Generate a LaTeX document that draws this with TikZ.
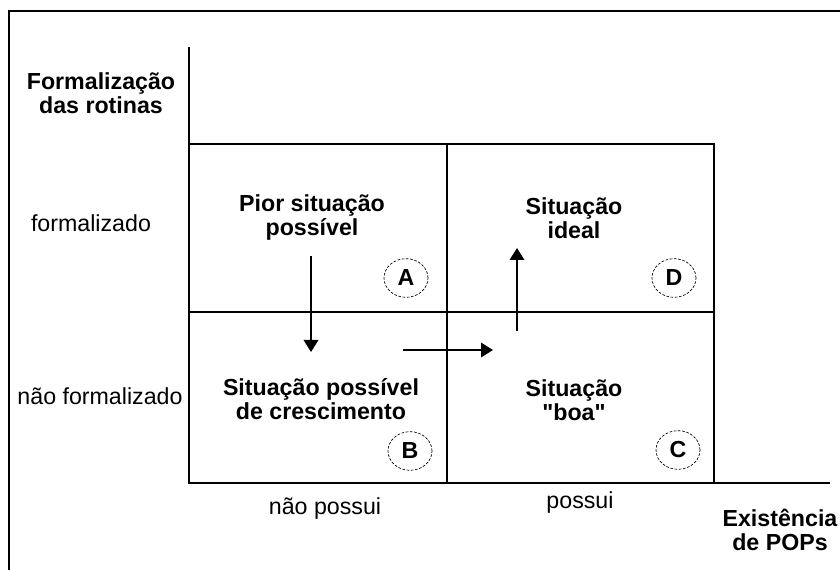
\documentclass[tikz,border=0pt]{standalone}
\usepackage{fontspec}
\setmainfont{Liberation Sans}[Ligatures=TeXOff]
\usepackage{tikz}
\usetikzlibrary{arrows.meta}
\usetikzlibrary{shapes.geometric}
\usetikzlibrary{positioning}

\begin{document}
\begin{tikzpicture}[x=0.75pt, y=-0.75pt,
    every node/.style={font=\fontsize{17.4}{18}\selectfont, align=center, inner sep=0pt},
    titel/.style={font=\fontsize{17.4}{18}\selectfont\bfseries},
    tag/.style={draw, ellipse, dashed, line width=0.5pt, dash pattern=on 2pt off 1.2pt,
                minimum width=33pt, minimum height=29pt, font=\fontsize{17.4}{18}\selectfont\bfseries},
    seta/.style={line width=0.9pt, -{Triangle[length=9pt, width=11pt]}}]
  \useasboundingbox (0,0) rectangle (840,570);

  % frame
  \draw[line width=0.9pt] (9,570) -- (9,11) -- (840,11);

  % axes and quadrants
  \draw[line width=0.9pt] (189,47) -- (189,483) -- (830,483);
  \draw[line width=0.9pt] (189,144) rectangle (714,483);
  \draw[line width=0.9pt] (447,144) -- (447,483);
  \draw[line width=0.9pt] (189,312) -- (714,312);

  % axis labels
  \node[titel] (eixoy) at (101,93)  {Formalização\\das rotinas};
  \node (form)    at (91,223)  {formalizado};
  \node (naoform) at (100,396) {não formalizado};
  \node (naoposs) at (325,509) {não possui};
  \node (possui)  at (580,503) {possui};
  \node[titel] (eixox) at (780,530) {Existência\\de POPs};

  % quadrants
  \node[titel] (pior)   at (312,218) {Pior situação\\possível};
  \node[titel] (ideal)  at (574,218) {Situação\\ideal};
  \node[titel] (cresc)  at (321,399) {Situação possível\\de crescimento};
  \node[titel] (boa)    at (574,400) {Situação\\"boa"};

  \node[tag] (A) at (406,278) {A};
  \node[tag] (D) at (674,278) {D};
  \node[tag] (B) at (410,451) {B};
  \node[tag] (C) at (678,450) {C};

  % arrows
  \coordinate (a1) at (311,256);
  \coordinate (a2) at (311,352);
  \coordinate (b1) at (403,350);
  \coordinate (b2) at (493,350);
  \coordinate (c1) at (517,331);
  \coordinate (c2) at (517,248);
  \draw[seta] (a1) -- (a2);
  \draw[seta] (b1) -- (b2);
  \draw[seta] (c1) -- (c2);
\end{tikzpicture}
\end{document}
